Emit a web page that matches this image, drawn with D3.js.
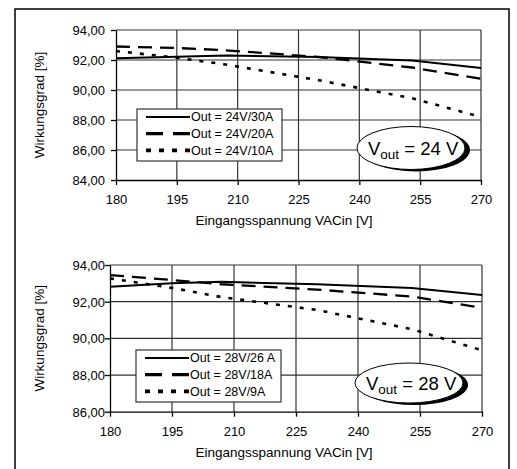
<meta charset="utf-8" />

<!--d3.js -->
<script src="https://d3js.org/d3.v7.min.js"></script>

<style>
  body {
    margin: 0;
    background: #fff;
  }
  svg text {
    font-family: "Liberation Sans", Arial, sans-serif;
    fill: #000;
  }
  .grid line {
    stroke: #333;
    stroke-width: 1.2;
  }
  .axis path,
  .axis line {
    stroke: #000;
    stroke-width: 1.3;
  }
</style>

<svg width="517" height="469"></svg>

<script>
  // x values (input voltage)
  var voltages = [180, 195, 207, 230, 253, 270];
  var xTicks = [180, 195, 210, 225, 240, 255, 270];

  // top chart, Vout = 24 V
  var top30A = [92.11, 92.22, 92.3, 92.2, 91.97, 91.47];
  var top20A = [92.9, 92.8, 92.65, 92.2, 91.5, 90.75];
  var top10A = [92.6, 92.15, 91.7, 90.65, 89.45, 88.2];
  var topLabels = ["Out = 24V/30A", "Out = 24V/20A", "Out = 24V/10A"];
  var topYTicks = [84, 86, 88, 90, 92, 94];

  // bottom chart, Vout = 28 V
  var bot26A = [92.82, 93.0, 93.08, 92.95, 92.74, 92.36];
  var bot18A = [93.45, 93.18, 92.95, 92.66, 92.28, 91.67];
  var bot9A = [93.27, 92.75, 92.25, 91.55, 90.5, 89.35];
  var botLabels = ["Out = 28V/26 A", "Out = 28V/18A", "Out = 28V/9A"];
  var botYTicks = [86, 88, 90, 92, 94];

  var styles = [
    { dash: null, width: 2, legDash: null, legWidth: 2 },
    { dash: "14,8", width: 2.3, legDash: "17,10", legWidth: 3.2 },
    { dash: "4,8", width: 2.6, legDash: "5,8", legWidth: 3.6 },
  ];

  var svg = d3.select("svg");

  // outer frame
  svg
    .append("rect")
    .attr("x", 15)
    .attr("y", 9)
    .attr("width", 494)
    .attr("height", 480)
    .attr("fill", "none")
    .attr("stroke", "#000")
    .attr("stroke-width", 1.5);

  function drawChart(cfg) {
    var x = d3.scaleLinear().domain([180, 270]).range([cfg.left, cfg.right]);
    var y = d3
      .scaleLinear()
      .domain([cfg.yTicks[0], cfg.yTicks[cfg.yTicks.length - 1]])
      .range([cfg.bottom, cfg.top]);

    var g = svg.append("g");

    // grid
    var grid = g.append("g").attr("class", "grid");
    grid
      .selectAll(".h")
      .data(cfg.yTicks.slice(1))
      .enter()
      .append("line")
      .attr("x1", cfg.left)
      .attr("x2", cfg.right)
      .attr("y1", function (d) {
        return y(d);
      })
      .attr("y2", function (d) {
        return y(d);
      });
    grid
      .selectAll(".v")
      .data(xTicks.slice(1))
      .enter()
      .append("line")
      .attr("y1", cfg.top)
      .attr("y2", cfg.bottom)
      .attr("x1", function (d) {
        return x(d);
      })
      .attr("x2", function (d) {
        return x(d);
      });

    // axes
    var xAxis = g
      .append("g")
      .attr("class", "axis")
      .attr("transform", "translate(0," + cfg.bottom + ")")
      .call(d3.axisBottom(x).tickValues(xTicks).tickSize(5).tickSizeOuter(0));
    xAxis
      .selectAll("text")
      .attr("font-size", "13px")
      .attr("dy", "0")
      .attr("y", 24);

    var yAxis = g
      .append("g")
      .attr("class", "axis")
      .attr("transform", "translate(" + cfg.left + ",0)")
      .call(
        d3
          .axisLeft(y)
          .tickValues(cfg.yTicks)
          .tickSize(5)
          .tickSizeOuter(0)
          .tickFormat(function (d) {
            return d3.format(".2f")(d).replace(".", ",");
          })
      );
    yAxis
      .selectAll("text")
      .attr("font-size", "13px")
      .attr("x", 105 - cfg.left)
      .attr("dy", "0.35em");

    // axis titles
    g.append("text")
      .attr("x", 284)
      .attr("y", cfg.bottom + 45)
      .attr("text-anchor", "middle")
      .attr("font-size", "13.5px")
      .text("Eingangsspannung VACin [V]");
    g.append("text")
      .attr(
        "transform",
        "translate(44," + (cfg.top + cfg.bottom) / 2 + ") rotate(-90)"
      )
      .attr("text-anchor", "middle")
      .attr("font-size", "13.5px")
      .text("Wirkungsgrad [%]");

    // series
    var line = d3
      .line()
      .x(function (d, i) {
        return x(voltages[i]);
      })
      .y(function (d) {
        return y(d);
      });

    cfg.series.forEach(function (s, i) {
      g.append("path")
        .attr("d", line(s))
        .attr("fill", "none")
        .attr("stroke", "#000")
        .attr("stroke-width", styles[i].width)
        .attr("stroke-dasharray", styles[i].dash);
    });

    // legend
    var leg = g.append("g");
    leg
      .append("rect")
      .attr("x", cfg.leg.x)
      .attr("y", cfg.leg.y)
      .attr("width", 145)
      .attr("height", 52)
      .attr("fill", "#fff")
      .attr("stroke", "#333")
      .attr("stroke-width", 1.2);
    cfg.labels.forEach(function (lab, i) {
      var ly = cfg.leg.y + 8 + i * 16.7;
      leg
        .append("line")
        .attr("x1", cfg.leg.x + 9)
        .attr("x2", cfg.leg.x + 53)
        .attr("y1", ly)
        .attr("y2", ly)
        .attr("stroke", "#000")
        .attr("stroke-width", styles[i].legWidth)
        .attr("stroke-dasharray", styles[i].legDash);
      leg
        .append("text")
        .attr("x", cfg.leg.x + 54)
        .attr("y", ly)
        .attr("dy", "0.35em")
        .attr("font-size", "12.5px")
        .text(lab);
    });

    // Vout bubble
    var b = cfg.bubble;
    g.append("ellipse")
      .attr("cx", b.cx + 5)
      .attr("cy", b.cy + 2)
      .attr("rx", b.rx)
      .attr("ry", b.ry)
      .attr("fill", "#000");
    g.append("ellipse")
      .attr("cx", b.cx)
      .attr("cy", b.cy)
      .attr("rx", b.rx)
      .attr("ry", b.ry)
      .attr("fill", "#fff")
      .attr("stroke", "#000")
      .attr("stroke-width", 1);
    var t = g
      .append("text")
      .attr("x", b.cx - 43)
      .attr("y", b.cy + 7)
      .attr("font-size", "18.5px");
    t.append("tspan").text("V");
    t.append("tspan").attr("font-size", "13.5px").attr("dy", 3.5).text("out");
    t.append("tspan").attr("dy", -3.5).text(" = " + cfg.vout + " V");
  }

  drawChart({
    left: 116,
    right: 481,
    top: 30,
    bottom: 180,
    yTicks: topYTicks,
    series: [top30A, top20A, top10A],
    labels: topLabels,
    leg: { x: 137, y: 109 },
    bubble: { cx: 411, cy: 148, rx: 54, ry: 21.5 },
    vout: 24,
  });

  drawChart({
    left: 110,
    right: 482,
    top: 265,
    bottom: 411.7,
    yTicks: botYTicks,
    series: [bot26A, bot18A, bot9A],
    labels: botLabels,
    leg: { x: 136, y: 350 },
    bubble: { cx: 409, cy: 383, rx: 54, ry: 20 },
    vout: 28,
  });
</script>
